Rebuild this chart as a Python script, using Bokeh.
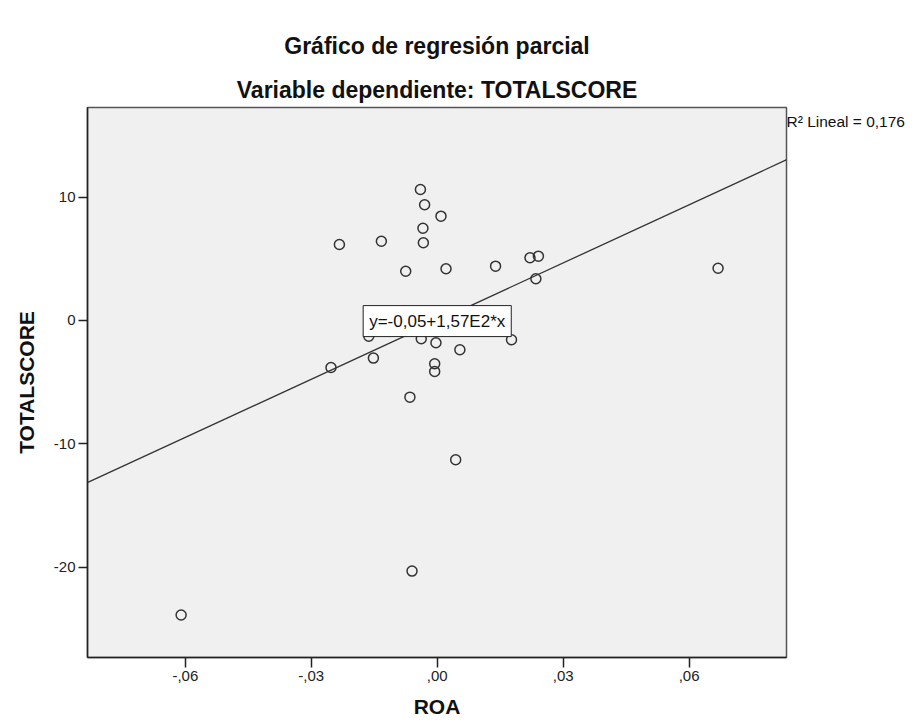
from bokeh.plotting import figure
from bokeh.models import Range1d, FixedTicker, Slope, Label, Title, LinearAxis
from bokeh.embed import file_html
from bokeh.resources import INLINE

# ---- data ----
roa = [-0.0040, -0.0030, 0.0009, -0.0034, -0.0033, -0.0233, -0.0133, -0.0075,
       0.0021, 0.0139, 0.0221, 0.0241, 0.0235, -0.0163, -0.0038, -0.0003,
       0.0054, 0.0177, -0.0152, -0.0253, -0.0006, -0.0006, -0.0065, 0.0044,
       -0.0060, -0.0610, 0.0669]
totalscore = [10.61, 9.37, 8.45, 7.47, 6.29, 6.15, 6.42, 3.99,
              4.19, 4.40, 5.08, 5.21, 3.38, -1.27, -1.48, -1.81,
              -2.37, -1.56, -3.05, -3.81, -3.51, -4.13, -6.21, -11.28,
              -20.30, -23.86, 4.23]

x_ticks = [-0.06, -0.03, 0.0, 0.03, 0.06]
x_tick_labels = ["-,06", "-,03", ",00", ",03", ",06"]
y_ticks = [-20, -10, 0, 10]
y_tick_labels = ["-20", "-10", "0", "10"]

intercept = -0.05
slope = 157.0
eq_text = "y=-0,05+1,57E2*x"
r2_text = "R² Lineal = 0,176"

title_text = "Gráfico de regresión parcial"
subtitle_text = "Variable dependiente: TOTALSCORE"
x_label = "ROA"
y_label = "TOTALSCORE"

FONT = "Liberation Sans"
X0, X1 = -0.0833, 0.0832
Y0, Y1 = -27.3, 17.25
PX_PER_Y = 12.35  # frame pixels per y unit

p = figure(width=914, height=723,
           x_range=Range1d(X0, X1), y_range=Range1d(Y0, Y1),
           output_backend="svg", toolbar_location=None,
           min_border_left=87, min_border_right=128,
           min_border_top=107, min_border_bottom=66,
           background_fill_color="#f0f0f0", border_fill_color="white",
           outline_line_color="#555555", outline_line_width=1.5)
p.grid.visible = False

p.xaxis.ticker = FixedTicker(ticks=x_ticks)
p.xaxis.major_label_overrides = {t: l for t, l in zip(x_ticks, x_tick_labels)}
p.yaxis.ticker = FixedTicker(ticks=y_ticks)
p.yaxis.major_label_overrides = {t: l for t, l in zip(y_ticks, y_tick_labels)}

for ax in (p.xaxis[0], p.yaxis[0]):
    ax.axis_line_color = "#222222"
    ax.axis_line_width = 1.5
    ax.major_tick_line_color = "#222222"
    ax.major_tick_line_width = 1.5
    ax.major_tick_out = 9
    ax.major_tick_in = 0
    ax.minor_tick_out = 0
    ax.minor_tick_in = 0
    ax.major_label_text_font = FONT
    ax.major_label_text_font_size = "15px"
    ax.major_label_text_color = "#222222"
    ax.major_label_standoff = 3
    ax.axis_label_text_font = FONT
    ax.axis_label_text_font_size = "21px"
    ax.axis_label_text_font_style = "bold"
    ax.axis_label_text_color = "#111111"
p.xaxis.major_tick_out = 10
p.xaxis.axis_label = x_label
p.xaxis.axis_label_standoff = 11
p.yaxis.axis_label = y_label
p.yaxis.axis_label_standoff = 13

# R² note at the right of the frame top, drawn as a tick label of a bare right axis
r2_y = Y1 - 14.5 / PX_PER_Y
r2_axis = LinearAxis(ticker=FixedTicker(ticks=[r2_y]),
                     major_label_overrides={r2_y: r2_text},
                     axis_line_color=None, major_tick_line_color=None,
                     major_tick_out=0, major_tick_in=0,
                     minor_tick_out=0, minor_tick_in=0,
                     major_label_standoff=0,
                     major_label_text_font=FONT,
                     major_label_text_font_size="15.5px",
                     major_label_text_color="#111111")
p.add_layout(r2_axis, "right")

p.scatter(roa, totalscore, size=10, marker="circle", fill_color=None,
          line_color="#333333", line_width=1.5)

p.add_layout(Slope(gradient=slope, y_intercept=intercept,
                   line_color="#333333", line_width=1.3))

p.add_layout(Label(x=0, y=intercept, text=eq_text, text_align="center",
                   text_baseline="middle", text_font=FONT, text_font_size="17px",
                   text_color="#111111", background_fill_color="white",
                   border_line_color="#222222", border_line_width=1, padding=6))

p.add_layout(Title(text=subtitle_text, align="center", offset=16, standoff=10,
                   text_font=FONT, text_font_size="23px", text_font_style="bold",
                   text_color="#111111"), "above")
p.add_layout(Title(text=title_text, align="center", offset=16, standoff=21,
                   text_font=FONT, text_font_size="23px", text_font_style="bold",
                   text_color="#111111"), "above")

open("out.html", "w").write(file_html(p, INLINE))
